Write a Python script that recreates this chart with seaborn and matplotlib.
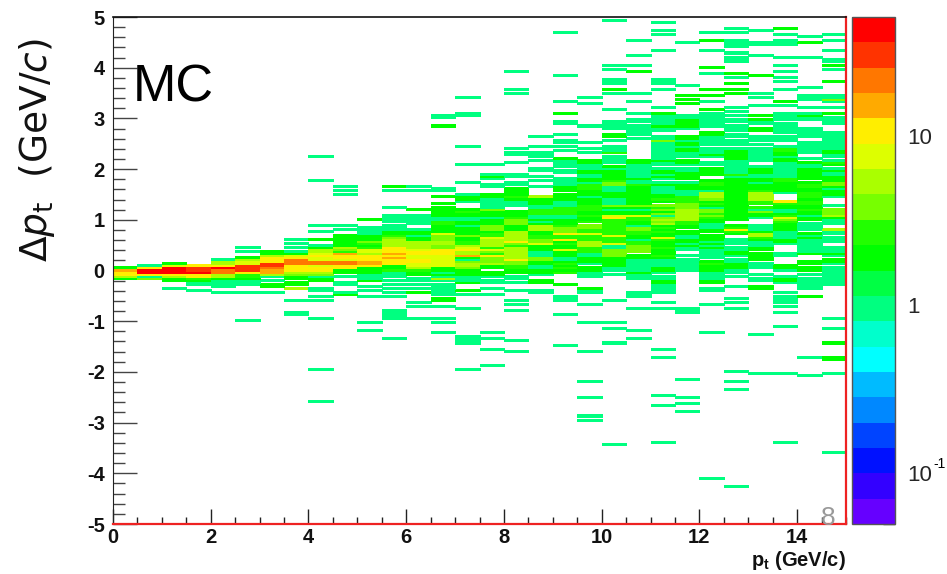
# 2D histogram of delta pt vs pt (MC), ROOT style rainbow palette

import matplotlib
matplotlib.use("Agg")
import matplotlib.pyplot as plt
from matplotlib.colors import ListedColormap, LogNorm
from matplotlib.ticker import NullFormatter
import seaborn as sns
import numpy as np
import pandas as pd

# bins: 30 pt columns, 250 delta pt rows. Rows are counted from dpt = 0 in steps of 0.04
pt_width = 0.5
dpt_width = 0.04

# first (highest) row of the filled band of each pt column
band_tops = [1, 2, 3, 2, 5, 11, 9, 15, 22, 22, 25, 27, 41, 40, 37, 52, 47, 36, 55, 54, 73, 54, 74, 74, 74, 74, 74, 74, 74, 74]

# counts going down from band_tops, and single entries outside the band (a repeat counts twice)
band_00 = [2, 14, 10, 10, 6, 2]
out_00 = []
band_01 = [1, 10, 40, 40, 12, 1, 4]
out_01 = []
band_02 = [2, 8, 45, 45, 45, 12, 5, 2, 2]
out_02 = [-9]
band_03 = [10, 30, 30, 45, 10, 9, 3, 2, 1, 1]
out_03 = [-10]
band_04 = [1, 5, 5, 10, 45, 25, 20, 6, 6, 2, 1, 1, 1, 1]
out_04 = [-11]
band_05 = [1, 0, 1, 0, 0, 2, 5, 8, 8, 30, 30, 30, 10, 3, 3, 2, 1, 1, 1, 0, 0, 0, 1]
out_05 = [-25]
band_06 = [2, 2, 5, 9, 10, 10, 30, 30, 25, 15, 14, 6, 1, 0, 1, 0, 2, 2, 0, 0, 1]
out_06 = []
band_07 = [1, 0, 1, 0, 1, 0, 1, 2, 7, 10, 20, 20, 20, 12, 10, 9, 6, 4, 2, 2, 0, 2, 2, 0, 5]
out_07 = [-15, -21, -22]
band_08 = [1, 0, 0, 1, 0, 0, 0, 2, 0, 0, 1, 2, 5, 5, 8, 10, 8, 8, 18, 18, 8, 10, 10, 5, 4, 1, 2, 2, 0, 0, 0, 1, 1]
out_08 = [56, 44, -13, -15, -24, -49, -65]
band_09 = [1, 0, 1, 0, 0, 2, 2, 2, 2, 2, 2, 5, 4, 3, 14, 10, 10, 8, 25, 25, 10, 10, 2, 2, 0, 1, 0, 0, 1, 1, 0, 0, 0, 1, 2]
out_09 = [41, 39, 37]
band_10 = [2, 0, 0, 0, 1, 1, 1, 1, 2, 2, 2, 4, 3, 2, 3, 8, 8, 5, 10, 10, 10, 14, 14, 10, 2, 2, 2, 1, 1, 1, 2]
out_10 = [-8, -10, -13, -26, -30]
band_11 = [1, 1, 1, 1, 0, 1, 1, 1, 2, 2, 3, 4, 5, 5, 5, 5, 9, 9, 9, 14, 9, 14, 9, 9, 9, 2, 2, 3, 1, 1, 1, 0, 1, 0, 1, 0, 1]
out_11 = [41, 41, 39, 31, -11, -13, -20, -21, -22, -23, -24, -34]
band_12 = [1, 0, 1, 0, 0, 0, 0, 0, 0, 0, 0, 2, 0, 0, 1, 1, 1, 1, 1, 0, 0, 1, 2, 2, 1, 2, 2, 5, 5, 5, 5, 8, 12, 10, 8, 8, 9, 9, 8, 7, 5, 3, 2, 2, 0, 1, 1, 0, 1, 0, 1, 0, 2]
out_12 = [-16, -18, -24]
band_13 = [1, 1, 0, 0, 2, 0, 0, 2, 0, 2, 2, 2, 2, 2, 1, 1, 3, 3, 2, 2, 2, 2, 8, 4, 4, 4, 5, 5, 4, 4, 10, 10, 10, 7, 7, 8, 8, 7, 7, 2, 2, 1, 2, 1, 5, 1, 0, 1, 1, 1, 1, 1, 1, 0, 2, 2, 0, 0, 1]
out_13 = [76, 75, 71, 71, -24, -26, -31]
band_14 = [1, 2, 2, 1, 0, 0, 0, 2, 3, 2, 2, 1, 1, 2, 2, 1, 2, 2, 2, 2, 4, 2, 2, 3, 3, 5, 8, 9, 5, 5, 14, 2, 1, 4, 5, 5, 4, 2, 2, 2, 1, 1, 1, 2]
out_14 = [85, 77, 76, 61, 52, 43, -10, -10, -12, -19, -33, -34, -35, -36, -49]
band_15 = [1, 0, 0, 0, 0, 1, 2, 1, 0, 0, 1, 1, 0, 0, 0, 2, 2, 1, 1, 1, 1, 1, 4, 2, 2, 2, 1, 2, 2, 2, 4, 4, 4, 2, 3, 3, 8, 5, 5, 5, 5, 3, 7, 4, 3, 9, 4, 4, 4, 5, 2, 2, 0, 2, 2, 1, 0, 1, 1, 0, 0, 1, 0, 0, 1]
out_15 = [-31, -34, -39, -47]
band_16 = [1, 1, 0, 0, 1, 1, 0, 2, 2, 2, 2, 3, 2, 1, 1, 1, 0, 0, 2, 2, 2, 3, 4, 4, 4, 2, 2, 2, 5, 5, 5, 5, 5, 9, 4, 3, 5, 5, 5, 5, 5, 5, 10, 4, 4, 3, 3, 2, 2, 0, 1, 1, 0, 1, 0, 0, 0, 1]
out_16 = [98, 89, 87, 60, 58, 57, 53, -15, -17, -20, -35, -40]
band_17 = [5, 2, 2, 2, 1, 1, 3, 3, 3, 1, 1, 2, 1, 2, 5, 5, 5, 2, 2, 3, 3, 4, 4, 8, 2, 2, 2, 1, 1, 1, 4, 4, 2, 2, 1, 1, 2, 2, 1, 0, 0, 2, 2, 0, 0, 0, 1]
out_17 = [66, 61, 58, 57, 56, 54, 50, 49, 46, 44, 41, -11]
band_18 = [2, 1, 1, 1, 1, 0, 1, 1, 0, 0, 1, 1, 1, 1, 2, 2, 2, 0, 2, 2, 2, 1, 1, 1, 3, 3, 3, 3, 1, 1, 2, 2, 2, 3, 4, 4, 4, 9, 3, 3, 9, 2, 3, 2, 2, 8, 2, 2, 2, 1, 1, 2, 3, 2, 3, 2, 3, 0, 0, 0, 0, 0, 2]
out_18 = [117, 96, 83, 77, 77, 73, 72, 67, 64, 63, 61, 59, -13, -14, -15, -22, -37]
band_19 = [2, 2, 1, 1, 1, 2, 2, 1, 1, 2, 2, 1, 3, 3, 3, 2, 2, 2, 1, 2, 2, 2, 3, 3, 3, 2, 2, 3, 2, 2, 3, 0, 4, 4, 3, 3, 8, 3, 3, 3, 5, 5, 5, 3, 3, 3, 1, 1, 2, 2, 2, 1, 0, 2, 2, 1, 1, 1, 0, 0, 0, 0, 0, 2, 1, 1]
out_19 = [85, 82, 71, 63, 60, 58, -17, -26, -40, -55, -63, -72, -74]
band_20 = [1, 1, 1, 1, 0, 0, 2, 2, 0, 1, 0, 0, 1, 1, 1, 3, 0, 1, 1, 1, 1, 0, 2, 1, 2, 2, 2, 2, 2, 3, 4, 4, 1, 1, 1, 2, 2, 2, 1, 1, 1, 4, 2, 1, 2, 2, 7, 9, 3, 3, 3, 3, 3, 3, 3, 3, 8, 3, 3, 3, 8, 1, 1, 4, 4, 4, 4, 2, 2, 2, 2, 2, 1, 1, 0, 1]
out_20 = [123, 101, 99, 94, 93, 92, 89, 89, 87, 79, -15, -26, -29, -36, -86]
band_21 = [2, 2, 1, 1, 1, 1, 1, 1, 1, 2, 1, 1, 3, 2, 2, 2, 2, 2, 2, 2, 2, 2, 4, 2, 1, 2, 2, 8, 3, 3, 2, 2, 1, 4, 4, 3, 3, 2, 2, 1, 3, 3, 4, 4, 4, 4, 0, 2, 2, 1, 1, 1, 1, 1, 1, 2, 1, 1, 1]
out_21 = [113, 106, 101, 98, 98, 87, 83, 77, 74, 73, 71, 70, 69, 68, 67, 65, -11, -12, -13, -19, -30, -34]
band_22 = [1, 1, 1, 2, 1, 1, 0, 0, 1, 1, 4, 1, 1, 1, 1, 1, 1, 1, 1, 1, 2, 1, 1, 0, 1, 2, 2, 1, 2, 1, 0, 1, 2, 1, 1, 1, 1, 2, 2, 3, 2, 0, 4, 3, 4, 2, 4, 1, 4, 5, 4, 5, 2, 3, 2, 3, 2, 2, 8, 3, 2, 2, 2, 3, 2, 2, 2, 3, 2, 1, 1, 1, 1, 2, 2, 1, 0, 1, 1, 2, 2, 1, 1, 1, 1, 1]
out_22 = [122, 118, 116, 108, 94, 93, 92, 89, 80, 77, 77, 76, 75, -16, -19, -39, -43, -62, -67, -85]
band_23 = [2, 2, 2, 2, 1, 0, 0, 0, 2, 2, 1, 2, 2, 1, 2, 2, 1, 1, 1, 0, 2, 2, 1, 0, 1, 1, 2, 2, 2, 2, 0, 1, 2, 2, 2, 1, 1, 1, 3, 3, 3, 4, 4, 4, 5, 5, 5, 5, 5, 5, 3, 3, 2, 2, 0, 2, 2, 1, 1, 2, 2, 1, 2, 1, 1, 0, 0, 1, 0, 1, 1, 1, 1, 1, 1]
out_23 = [112, 91, 86, 86, 84, 84, 82, 82, 76, 75, -19, -20, -21, -54, -63, -66, -70]
band_24 = [1, 1, 1, 1, 0, 0, 2, 2, 1, 1, 1, 1, 1, 0, 1, 1, 1, 2, 1, 0, 0, 1, 1, 0, 2, 2, 2, 2, 0, 0, 2, 3, 3, 2, 2, 1, 5, 5, 5, 4, 2, 3, 2, 1, 4, 4, 3, 4, 3, 2, 2, 1, 1, 1, 2, 2, 0, 2, 2, 2, 1, 2, 1, 2, 1, 1, 1, 1, 1, 0, 2, 3, 2, 2, 2, 1, 1, 1, 1, 2, 2, 0, 0, 1, 1]
out_24 = [117, 113, 113, 108, 100, 100, 97, 89, 89, 86, 86, 83, 79, 79, 77, 76, 75, -17, -31, -103]
band_25 = [1, 1, 0, 1, 1, 1, 0, 1, 1, 0, 1, 1, 1, 0, 1, 2, 2, 2, 2, 2, 1, 1, 1, 1, 1, 1, 1, 3, 1, 2, 2, 2, 2, 2, 2, 2, 2, 2, 2, 2, 2, 2, 2, 2, 2, 2, 2, 2, 2, 2, 0, 0, 2, 3, 9, 3, 2, 0, 0, 1, 1, 1, 0, 1, 1, 2, 2, 1, 0, 1, 1, 2, 2, 2, 1, 1, 0, 1, 0, 0, 0, 0, 1]
out_25 = [119, 117, 113, 112, 111, 110, 107, 105, 104, 103, 97, 97, 95, 92, 92, 89, 89, 87, 87, 80, 78, 76, -14, -16, -19, -50, -55, -59, -107]
band_26 = [2, 1, 1, 0, 2, 2, 0, 0, 1, 1, 1, 0, 1, 0, 1, 1, 1, 1, 1, 1, 1, 0, 0, 1, 2, 2, 2, 1, 1, 2, 2, 1, 2, 2, 2, 3, 6, 6, 6, 5, 3, 3, 0, 3, 1, 4, 2, 2, 1, 0, 0, 0, 1, 1, 1, 2, 5, 6, 3, 2, 1, 1, 1, 2, 2, 0, 2, 2, 2, 2, 0, 1, 1, 1, 0, 0, 1, 0, 1, 1, 0, 0, 2, 2]
out_26 = [118, 112, 111, 106, 96, 96, 87, 85, 81, 76, 76, -32, -51]
band_27 = [1, 0, 1, 1, 1, 1, 1, 0, 1, 1, 1, 0, 0, 1, 3, 3, 2, 2, 1, 2, 2, 1, 1, 1, 1, 1, 1, 1, 1, 3, 3, 2, 2, 2, 2, 2, 1, 0, 0, 0, 9, 3, 2, 2, 1, 1, 2, 3, 7, 4, 3, 2, 2, 2, 2, 1, 1, 1, 1, 2, 2, 1, 0, 0, 0, 0, 1, 1, 0, 0, 0, 0, 2, 2, 1, 0, 0, 1, 2, 2, 1]
out_27 = [119, 119, 116, 113, 112, 111, 105, 101, 98, 95, 93, 89, 83, 83, 81, 77, 76, 75, -11, -13, -14, -15, -16, -18, -21, -28, -51, -85]
band_28 = [1, 0, 0, 0, 1, 1, 1, 1, 1, 0, 0, 1, 1, 1, 1, 1, 1, 0, 0, 1, 0, 2, 1, 1, 2, 2, 2, 2, 2, 2, 0, 2, 3, 3, 2, 2, 3, 3, 3, 2, 3, 3, 2, 2, 3, 2, 2, 1, 2, 2, 0, 1, 1, 1, 1, 0, 2, 1, 2, 1, 1, 1, 1, 1, 1, 1, 2, 0, 0, 0, 2, 2, 0, 2, 2, 0, 1, 0, 1, 1, 1, 1, 1, 1]
out_28 = [115, 112, 112, 105, 90, 86, 85, 84, 80, 77, 76, 76, 75, -13, -13, -43, -52]
band_29 = [1, 1, 1, 0, 0, 0, 1, 1, 1, 1, 1, 1, 1, 1, 1, 2, 2, 1, 1, 0, 1, 3, 2, 0, 1, 2, 1, 1, 2, 2, 2, 4, 4, 2, 1, 2, 2, 2, 1, 0, 0, 0, 1, 0, 4, 4, 4, 5, 2, 1, 1, 1, 0, 0, 5, 1, 1, 0, 1, 1, 1, 0, 0, 1, 1, 1, 2, 1, 0, 2, 2, 1, 0, 1, 1, 1, 1, 1, 1, 1, 1, 1]
out_29 = [116, 113, 108, 104, 103, 101, 101, 99, 93, 93, 86, 85, 84, 84, 84, 84, 83, 80, 77, 77, 75, -24, -29, -36, -36, -43, -43, -44, -44, -51, -90]

# palette levels, top of the colour bar first
palette = ["#ff0000", "#ff3300", "#ff7700", "#ffaa00", "#ffee00", "#ddff00", "#aaff00", "#77ff00", "#22ff00", "#00ff00",
           "#00ff44", "#00ff80", "#00ffcc", "#00ffff", "#00bbff", "#0088ff", "#0044ff", "#0011ff", "#3300ff", "#6600ff"]

n_pt = 30
n_dpt = 250
counts = np.zeros((n_dpt, n_pt))
for col in range(n_pt):
    band = globals()[f"band_{col:02d}"]
    for i, n in enumerate(band):
        counts[band_tops[col] - i + 125, col] += n
    for row in globals()[f"out_{col:02d}"]:
        counts[row + 125, col] += 1

pt_centres = (np.arange(n_pt) + 0.5) * pt_width
dpt_centres = (np.arange(n_dpt) + 0.5) * dpt_width - 5
df = pd.DataFrame(counts, index=dpt_centres, columns=pt_centres)

sns.set_style("white")
plt.rcParams["font.family"] = ["Liberation Sans", "DejaVu Sans"]
plt.rcParams["mathtext.fontset"] = "dejavusans"

fig = plt.figure(figsize=(9.47, 5.74), dpi=100)
ax = fig.add_axes([113 / 947, 50 / 574, 733 / 947, 507 / 574])
cax = fig.add_axes([852 / 947, 50 / 574, 43 / 947, 507 / 574])

sns.heatmap(df, ax=ax, cbar_ax=cax, mask=df == 0, cmap=ListedColormap(palette[::-1]),
            norm=LogNorm(vmin=0.05, vmax=50.8), xticklabels=False, yticklabels=False, linewidths=0)
ax.invert_yaxis()

# the rows in the original are smeared a little, so let each cell bleed into its edge
ax.collections[0].set_edgecolor("face")
ax.collections[0].set_linewidth(0.5)


def x_pos(pt):
    return np.asarray(pt) / pt_width


def y_pos(dpt):
    return (np.asarray(dpt) + 5) / dpt_width


ax.set_xticks(x_pos(np.arange(0, 15, 2)))
ax.set_xticklabels([str(v) for v in range(0, 15, 2)], fontsize=14.5, fontweight="bold", color="#111111")
ax.set_xticks(x_pos(np.arange(0, 15.01, 0.5)), minor=True)
ax.set_yticks(y_pos(np.arange(-5, 6)))
ax.set_yticklabels([str(v) for v in range(-5, 6)], fontsize=14.5, fontweight="bold", color="#111111", rotation=0)
ax.set_yticks(y_pos(np.arange(-5, 5.01, 0.2)), minor=True)
ax.tick_params(axis="x", which="major", direction="in", length=10.8, width=1, color="#222222", pad=3, bottom=True)
ax.tick_params(axis="x", which="minor", direction="in", length=5.4, width=1, color="#222222", bottom=True)
ax.tick_params(axis="y", which="major", direction="in", length=17, width=1, color="#444444", pad=6, left=True)
ax.tick_params(axis="y", which="minor", direction="in", length=8.6, width=1, color="#444444", left=True)
ax.set_xlabel("")
ax.set_ylabel("")

for side in ["left", "top", "right", "bottom"]:
    ax.spines[side].set_visible(True)
ax.spines["left"].set_color("#222222")
ax.spines["top"].set_color("#111111")
ax.spines["top"].set_linewidth(1.2)
ax.spines["right"].set_color("#ee2222")
ax.spines["right"].set_linewidth(1.6)
ax.spines["bottom"].set_color("#ee2222")
ax.spines["bottom"].set_linewidth(1.6)

cbar = ax.collections[0].colorbar
cbar.set_ticks([0.1, 1, 10], labels=["10", "1", "10"])
cbar.ax.yaxis.set_minor_formatter(NullFormatter())
cbar.ax.tick_params(which="major", direction="in", length=17, width=1, color="#222222", pad=9, labelsize=16, right=True)
cbar.ax.tick_params(which="minor", direction="in", length=8.6, width=1, color="#222222", right=True)
cbar.outline.set_edgecolor("#555555")
cbar.outline.set_linewidth(1)

fig.text(933 / 947, 1 - 468 / 574, "-1", fontsize=10, color="black", ha="left", va="baseline")
fig.text(133 / 947, 1 - 102 / 574, "MC", fontsize=37.5, color="black", ha="left", va="baseline")
fig.text(828 / 947, 1 - 525 / 574, "8", fontsize=19, color="#999999", ha="center", va="baseline")
fig.text(846 / 947, 1 - 566 / 574, r"$\mathregular{p_t}$ (GeV/c)", fontsize=14.5, fontweight="bold", ha="right", va="baseline", color="#111111")
fig.text(37 / 947, 1 - 150 / 574, r"$\Delta p_{\mathrm{t}}$  (GeV/$c$)", fontsize=27, rotation=90, ha="center", va="center",
         family="DejaVu Sans", color="#111111")

fig.savefig("out.png", dpi=100)
plt.close(fig)
